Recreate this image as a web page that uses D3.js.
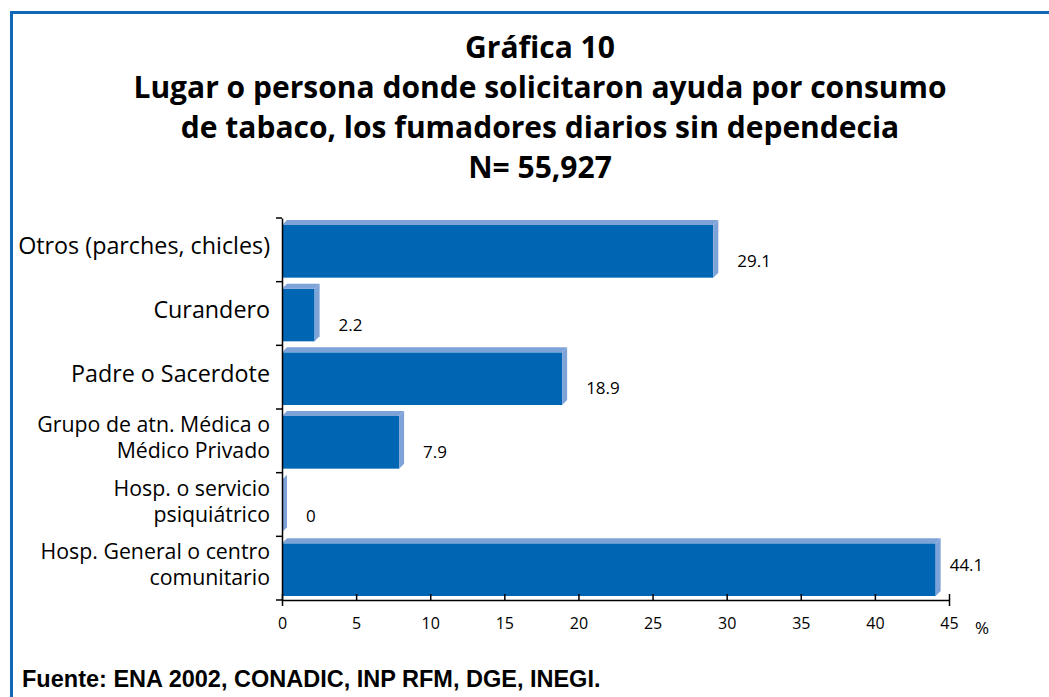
<!DOCTYPE html>
<html lang="es">
<head>
  <meta charset="utf-8"/>
  <title>Gráfica 10</title>
  <script src="https://d3js.org/d3.v7.min.js"></script>
  <style>
    body { margin: 0; background: #fff; }
    .titulo { font-family: "Open Sans", sans-serif; font-weight: 700; font-size: 30px; }
    .cat { font-family: "Open Sans", sans-serif; font-size: 23.3px; }
    .cat2 { font-family: "Open Sans", sans-serif; font-size: 21.3px; }
    .valor { font-family: "Open Sans", sans-serif; font-size: 17px; }
    .eje text { font-family: "Open Sans", sans-serif; font-size: 16px; }
    .fuente { font-family: "Liberation Sans", Arial, sans-serif; font-weight: 700; font-size: 23.5px; }
  </style>
</head>
<body>
<svg id="chart" width="1049" height="697"></svg>
<script>
  // datos
  const categorias = [
    ["Otros (parches, chicles)"],
    ["Curandero"],
    ["Padre o Sacerdote"],
    ["Grupo de atn. Médica o", "Médico Privado"],
    ["Hosp. o servicio", "psiquiátrico"],
    ["Hosp. General o centro", "comunitario"]
  ];
  const valores = [29.1, 2.2, 18.9, 7.9, 0, 44.1];
  const ticks = [0, 5, 10, 15, 20, 25, 30, 35, 40, 45];
  const titulo = [
    "Gráfica 10",
    "Lugar o persona donde solicitaron ayuda por consumo",
    "de tabaco, los fumadores diarios sin dependecia",
    "N= 55,927"
  ];

  const svg = d3.select("#chart");

  // marco azul
  svg.append("path")
    .attr("d", "M 11.5 697 L 11.5 12.5 L 1049 12.5")
    .attr("fill", "none")
    .attr("stroke", "#1068b8")
    .attr("stroke-width", 3);

  // titulo
  svg.append("g").selectAll("text")
    .data(titulo)
    .enter()
    .append("text")
    .attr("class", "titulo")
    .attr("text-anchor", "middle")
    .attr("x", 540)
    .attr("y", (d, i) => 58 + i * 40)
    .text(d => d);

  const mIzq = 282, mDer = 949, mSup = 218, mInf = 600;
  const idx = d3.range(valores.length);

  const x = d3.scaleLinear().domain([0, 45]).range([mIzq, mDer]);
  const y = d3.scaleBand().domain(idx).range([mSup, mInf]);

  const depth = 5;
  const barH = y.bandwidth() - 11;

  const barras = svg.append("g").selectAll("g")
    .data(idx)
    .enter()
    .append("g");

  // cara frontal
  barras.append("rect")
    .attr("x", x(0))
    .attr("y", i => y(i) + 7)
    .attr("width", i => x(valores[i]) - x(0))
    .attr("height", barH)
    .attr("fill", "#0066b3");

  // cara superior
  barras.append("path")
    .attr("fill", "#7ea3d8")
    .attr("d", i => {
      const fy = y(i) + 7, x0 = x(0), x1 = x(valores[i]);
      return `M${x0},${fy} L${x0 + depth},${fy - depth} L${x1 + depth},${fy - depth} L${x1},${fy} Z`;
    });

  // cara lateral
  barras.append("path")
    .attr("fill", "#7ea3d8")
    .attr("d", i => {
      const fy = y(i) + 7, x1 = x(valores[i]);
      return `M${x1},${fy} L${x1 + depth},${fy - depth} L${x1 + depth},${fy + barH - depth} L${x1},${fy + barH} Z`;
    });

  // etiquetas de valor
  barras.append("text")
    .attr("class", "valor")
    .attr("x", i => x(valores[i]) + (valores[i] > 40 ? 14 : 24))
    .attr("y", i => y(i) + y.bandwidth() / 2 + (valores[i] > 40 ? 3 : 17))
    .text(i => valores[i]);

  // eje x
  const ejeX = svg.append("g")
    .attr("class", "eje")
    .attr("transform", `translate(0,${mInf})`)
    .call(d3.axisBottom(x).tickValues(ticks).tickSize(6).tickPadding(12));
  ejeX.select(".domain").attr("stroke", "#000").attr("stroke-width", 1.5);
  ejeX.selectAll(".tick line").attr("stroke", "#000").attr("stroke-width", 1.5)
    .attr("y1", -6).attr("y2", 0);
  ejeX.selectAll("text").attr("fill", "#000");

  svg.append("text")
    .attr("class", "valor")
    .attr("x", 975)
    .attr("y", 634)
    .text("%");

  // eje y
  const ejeY = svg.append("g")
    .attr("class", "eje")
    .attr("transform", `translate(${mIzq},0)`)
    .call(d3.axisLeft(y).tickValues([]).tickSizeOuter(0));
  ejeY.select(".domain").attr("stroke", "#000").attr("stroke-width", 1.5);

  // marcas entre categorias
  svg.append("g").selectAll("line")
    .data(idx.concat([valores.length]))
    .enter()
    .append("line")
    .attr("x1", mIzq - 6)
    .attr("x2", mIzq)
    .attr("y1", i => i < valores.length ? y(i) : mInf)
    .attr("y2", i => i < valores.length ? y(i) : mInf)
    .attr("stroke", "#000")
    .attr("stroke-width", 1.5);

  // etiquetas de categoria
  const cats = svg.append("g").selectAll("text")
    .data(idx)
    .enter()
    .append("text")
    .attr("class", i => categorias[i].length > 1 ? "cat2" : "cat")
    .attr("text-anchor", "end")
    .attr("x", 270)
    .attr("y", i => y(i) + y.bandwidth() / 2);

  cats.selectAll("tspan")
    .data(i => categorias[i].map((t, k) => ({ t, k, n: categorias[i].length })))
    .enter()
    .append("tspan")
    .attr("x", 270)
    .attr("dy", d => d.k === 0 ? (d.n > 1 ? "-0.42em" : "0.2em") : "1.22em")
    .text(d => d.t);

  // fuente
  svg.append("text")
    .attr("class", "fuente")
    .attr("x", 22)
    .attr("y", 687)
    .text("Fuente: ENA 2002, CONADIC, INP RFM, DGE, INEGI.");
</script>
</body>
</html>
